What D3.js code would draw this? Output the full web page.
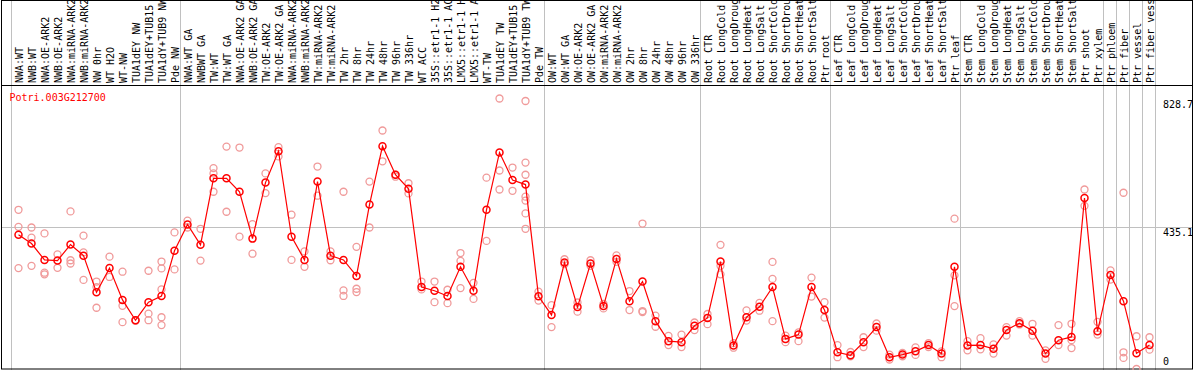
<!DOCTYPE html>
<html>
<head>
<meta charset="utf-8">
<script src="https://cdn.jsdelivr.net/npm/d3@7"></script>
<style>
  body { margin: 0; background: #fff; }
  text { font-family: "DejaVu Sans Mono", monospace; font-size: 10px; }
</style>
</head>
<body>
<script>
// size of the picture
var width = 1194,
    height = 370;

// sample names, left to right
var samples = [
  "NWA:WT", "NWB:WT", "NWA:OE-ARK2", "NWB:OE-ARK2", "NWA:miRNA-ARK2", "NWB:miRNA-ARK2",
  "NW 0hr", "WT H2O", "WT-NW", "TUA1dEY NW", "TUA1dEY+TUB15", "TUA1dY+TUB9 NW", "Pde NW",
  "NWA:WT GA", "NWBWT GA", "TW:WT", "TW:WT GA", "NWA:OE-ARK2 GA", "NWB:OE-ARK2 GA",
  "TW:OE-ARK2", "TW:OE-ARK2 GA", "NWA:miRNA-ARK2", "NWB:miRNA-ARK2", "TW:miRNA-ARK2",
  "TW:miRNA-ARK2", "TW 2hr", "TW 8hr", "TW 24hr", "TW 48hr", "TW 96hr", "TW 336hr",
  "WT ACC", "35S::etr1-1 H2", "35S::etr1-1 AC", "LMX5::etr1-1 H", "LMX5::etr1-1 A",
  "WT-TW", "TUA1dEY TW", "TUA1dEY+TUB15", "TUA1dY+TUB9 TW", "Pde TW",
  "OW:WT", "OW:WT GA", "OW:OE-ARK2", "OW:OE-ARK2 GA", "OW:miRNA-ARK2", "OW:miRNA-ARK2",
  "OW 2hr", "OW 8hr", "OW 24hr", "OW 48hr", "OW 96hr", "OW 336hr",
  "Root CTR", "Root LongCold", "Root LongDroug", "Root LongHeat", "Root LongSalt",
  "Root ShortCold", "Root ShortDrou", "Root ShortHeat", "Root ShortSalt", "Ptr root",
  "Leaf CTR", "Leaf LongCold", "Leaf LongDroug", "Leaf LongHeat", "Leaf LongSalt",
  "Leaf ShortCold", "Leaf ShortDrou", "Leaf ShortHeat", "Leaf ShortSalt", "Ptr leaf",
  "Stem CTR", "Stem LongCold", "Stem LongDroug", "Stem LongHeat", "Stem LongSalt",
  "Stem ShortCold", "Stem ShortDrou", "Stem ShortHeat", "Stem ShortSalt", "Ptr shoot",
  "Ptr xylem", "Ptr phloem", "Ptr fiber", "Ptr vessel", "Ptr fiber vess"
];

// index of the first sample of each group (a grey line is drawn before it)
var groupStarts = [0, 13, 41, 53, 63, 73, 84, 85, 86, 87, 88];

// mean expression per sample
var means = [
  413, 386, 336, 334, 383, 349, 237, 311, 214, 152, 207, 226, 364,
  444, 382, 585, 585, 544, 401, 572, 668, 407, 336, 575, 349, 336, 287, 505,
  683, 596, 553, 253, 242, 226, 315, 242, 489, 664, 580, 566, 225,
  168, 328, 192, 325, 195, 339, 210, 270, 149, 88, 85, 135,
  159, 331, 75, 161, 193, 253, 95, 108, 253, 183,
  54, 45, 85, 131, 39, 47, 57, 76, 50, 315,
  75, 76, 65, 122, 143, 120, 50, 91, 101, 525, 118,
  290, 210, 51, 76
];

// single replicates per sample
var replicates = [
  [489, 437, 311], [435, 404, 318], [417, 297, 292], [353, 312], [484, 335, 325], [410, 359, 275],
  [270, 253, 190], [346, 284], [300, 196, 146], [152, 150], [303, 172, 152], [331, 310, 246, 161, 137],
  [420, 307],
  [456, 435], [431, 334], [616, 600, 544], [682, 483], [679, 407], [445, 355],
  [600, 540], [680, 652], [474, 336], [362, 315], [621, 532], [362, 335],
  [544, 243, 226], [376, 248, 238], [575, 435], [731, 637], [596, 590], [570, 539],
  [270, 246], [270, 207], [245, 204], [357, 333, 250], [266, 217],
  [587, 394], [828.7, 609, 551], [618, 547], [821, 633, 596, 529, 517, 478, 431], [239, 212],
  [198, 131], [338, 323], [206, 178], [335, 318], [202, 188], [350, 330],
  [241, 183], [447, 180, 177], [166, 132], [104, 76], [108, 70], [145, 122],
  [171, 140], [382, 318, 292], [68, 82], [182, 151], [205, 181], [330, 278, 149],
  [105, 85], [115, 88], [282, 224], [207, 160],
  [76, 39], [55, 42], [100, 70], [142, 120], [47, 32], [52, 42], [69, 46], [82, 70], [57, 39],
  [462, 289, 195],
  [88, 60], [97, 63], [78, 50], [131, 105], [149, 139], [141, 105], [60, 34], [137, 76],
  [141, 91, 67], [551, 501], [147, 108],
  [304, 276], [541, 54, 37], [103, 3], [100, 62]
];

// the axis shows only these values
var yTicks = [0, 435.1, 828.7];

var geneName = "Potri.003G212700";

var headerBottom = 86;

var x = d3.scaleBand()
    .domain(d3.range(samples.length))
    .range([12, 12 + 13 * samples.length]);

var y = d3.scaleLinear()
    .domain([0, 828.7])
    .range([370, 98.5]);

var cx = function(i) { return x(i) + x.bandwidth() / 2; };

var svg = d3.select("body")
    .append("svg")
    .attr("width", width)
    .attr("height", height);

// grey group lines, full height
svg.append("g")
    .selectAll("line")
    .data(groupStarts)
    .enter().append("line")
    .attr("x1", function(d) { return x(0) + d * x.step() - 0.5; })
    .attr("x2", function(d) { return x(0) + d * x.step() - 0.5; })
    .attr("y1", 0)
    .attr("y2", height)
    .attr("stroke", "#c0c0c0");

// horizontal line at the middle tick
svg.append("line")
    .attr("x1", 1)
    .attr("x2", width - 1)
    .attr("y1", Math.round(y(435.1)) + 0.5)
    .attr("y2", Math.round(y(435.1)) + 0.5)
    .attr("stroke", "#c0c0c0");

// vertical sample labels in the header
svg.append("g")
    .selectAll("text")
    .data(samples)
    .enter().append("text")
    .attr("transform", function(d, i) {
        return "translate(" + (cx(i) + 4) + "," + (headerBottom - 3) + ") rotate(-90)";
    })
    .attr("fill", "#000")
    .text(function(d) { return d; });

// tick labels on the right
svg.append("g")
    .selectAll("text")
    .data(yTicks)
    .enter().append("text")
    .attr("x", 1163)
    .attr("y", function(d) { return Math.min(y(d) + 9, 365); })
    .attr("fill", "#000")
    .text(function(d) { return d; });

// frame and header line
svg.append("rect")
    .attr("x", 1.5)
    .attr("y", 0.5)
    .attr("width", width - 3)
    .attr("height", height - 1.5)
    .attr("fill", "none")
    .attr("stroke", "#000");

svg.append("line")
    .attr("x1", 1)
    .attr("x2", width - 1)
    .attr("y1", headerBottom - 0.5)
    .attr("y2", headerBottom - 0.5)
    .attr("stroke", "#000");

svg.append("text")
    .attr("x", 9.5)
    .attr("y", 101)
    .attr("fill", "#ff0000")
    .text(geneName);

// replicate circles
var reps = [];
replicates.forEach(function(list, i) {
    list.forEach(function(v) { reps.push({ i: i, v: v }); });
});

svg.append("g")
    .selectAll("circle")
    .data(reps)
    .enter().append("circle")
    .attr("cx", function(d) { return cx(d.i); })
    .attr("cy", function(d) { return y(d.v); })
    .attr("r", 3.5)
    .attr("fill", "none")
    .attr("stroke", "#f09a9a")
    .attr("stroke-width", 1.3);

// line through the means
var line = d3.line()
    .x(function(d, i) { return cx(i); })
    .y(function(d) { return y(d); });

svg.append("path")
    .attr("d", line(means))
    .attr("fill", "none")
    .attr("stroke", "#ff0000")
    .attr("stroke-width", 1.2);

svg.append("g")
    .selectAll("circle")
    .data(means)
    .enter().append("circle")
    .attr("cx", function(d, i) { return cx(i); })
    .attr("cy", function(d) { return y(d); })
    .attr("r", 3.5)
    .attr("fill", "none")
    .attr("stroke", "#ff0000")
    .attr("stroke-width", 1.5);
</script>
</body>
</html>
